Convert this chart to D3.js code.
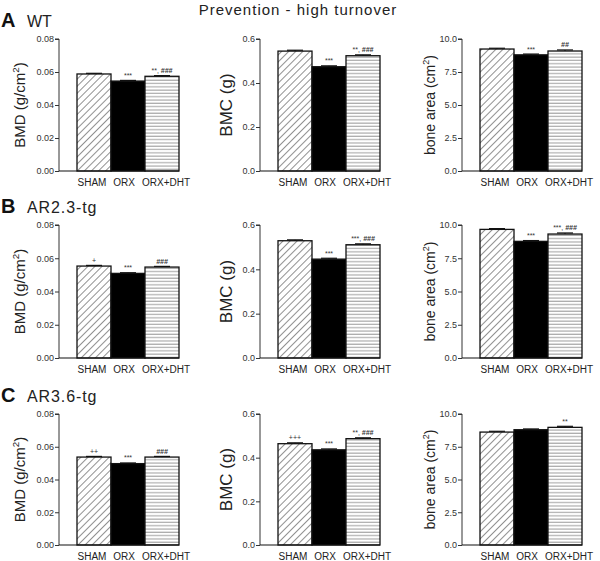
<!DOCTYPE html>
<html><head><meta charset="utf-8">
<script src="https://cdn.jsdelivr.net/npm/d3@7"></script>
<style>body{margin:0;background:#fff}svg{display:block}text{font-family:"Liberation Sans",Arial,sans-serif}</style>
</head><body><svg id="c" width="600" height="561"></svg>
<script>
const groups = ["SHAM", "ORX", "ORX+DHT"];
const strains = ["WT", "AR2.3-tg", "AR3.6-tg"];
const letters = ["A", "B", "C"];
const title = "Prevention - high turnover";

const bmdWT   = [0.0588, 0.0545, 0.0574];
const bmcWT   = [0.545, 0.474, 0.524];
const areaWT  = [9.24, 8.80, 9.09];
const bmdAR23 = [0.0553, 0.0509, 0.0547];
const bmcAR23 = [0.529, 0.446, 0.511];
const areaAR23= [9.67, 8.77, 9.32];
const bmdAR36 = [0.0537, 0.0497, 0.0537];
const bmcAR36 = [0.464, 0.436, 0.487];
const areaAR36= [8.62, 8.80, 8.98];

const semBMD  = [0.0004, 0.0004, 0.0004];
const semBMC  = [0.004, 0.004, 0.004];
const semArea = [0.06, 0.06, 0.08];

const bmdTicks  = [0, 0.02, 0.04, 0.06, 0.08];
const bmcTicks  = [0, 0.2, 0.4, 0.6];
const areaTicks = [0, 2.5, 5, 7.5, 10];

const annWT   = [["", "***", "**, ###"], ["", "***", "**, ###"], ["", "***", "##"]];
const annAR23 = [["+", "***", "###"], ["", "***", "***, ###"], ["", "***", "***, ###"]];
const annAR36 = [["++", "***", "###"], ["+++", "***", "**, ###"], ["", "", "**"]];

const measures = [
  {label: "BMD (g/cm", sup: "2", tail: ")", ticks: bmdTicks, fmt: ".2f", max: 0.08, sem: semBMD, fs: 15},
  {label: "BMC (g)", sup: null, tail: "", ticks: bmcTicks, fmt: ".1f", max: 0.6, sem: semBMC, fs: 17},
  {label: "bone area (cm", sup: "2", tail: ")", ticks: areaTicks, fmt: ".1f", max: 10, sem: semArea, fs: 14}
];
const rowValues = [[bmdWT, bmcWT, areaWT], [bmdAR23, bmcAR23, areaAR23], [bmdAR36, bmcAR36, areaAR36]];
const rowAnn = [annWT, annAR23, annAR36];

const svg = d3.select("#c");
const defs = svg.append("defs");
const p1 = defs.append("pattern").attr("id", "diag").attr("patternUnits", "userSpaceOnUse")
  .attr("width", 5).attr("height", 5).attr("patternTransform", "rotate(45)");
p1.append("rect").attr("width", 5).attr("height", 5).attr("fill", "#fff");
p1.append("line").attr("x1", 0).attr("y1", 0).attr("x2", 0).attr("y2", 5).attr("stroke", "#555").attr("stroke-width", 1.3);
const p2 = defs.append("pattern").attr("id", "horiz").attr("patternUnits", "userSpaceOnUse")
  .attr("width", 8).attr("height", 3.3);
p2.append("rect").attr("width", 8).attr("height", 3.3).attr("fill", "#fff");
p2.append("line").attr("x1", 0).attr("y1", 1).attr("x2", 8).attr("y2", 1).attr("stroke", "#999").attr("stroke-width", 1);
const fills = ["url(#diag)", "#000", "url(#horiz)"];

svg.append("text").attr("x", 298).attr("y", 15).attr("text-anchor", "middle")
  .attr("font-size", 15).attr("letter-spacing", 1).attr("fill", "#222").text(title);

const colX = [59, 260, 462];
const rowY = [[39, 171], [225, 358], [414, 545]];
const titleX = [20, 226, 430];
const labelShift = [-2, -4, 4];

rowValues.forEach((rowVals, r) => {
  const [top, bot] = rowY[r];
  svg.append("text").attr("x", 1).attr("y", top - 12).attr("font-size", 20).attr("font-weight", "bold").attr("fill", "#111").text(letters[r]);
  svg.append("text").attr("x", 27).attr("y", top - 12).attr("font-size", 16).attr("letter-spacing", r === 0 ? 0 : 0.9).attr("fill", "#222").text(strains[r]);
  measures.forEach((m, c) => {
    const vals = rowVals[c];
    const ax = colX[c];
    const y = d3.scaleLinear().domain([0, m.max]).range([bot, top]);
    const x = d3.scaleBand().domain(groups).range([ax + 18, ax + 120]).padding(0);
    const g = svg.append("g");
    const yAxis = d3.axisLeft(y).tickValues(m.ticks).tickFormat(d3.format(m.fmt)).tickSize(4).tickPadding(1);
    const ya = g.append("g").attr("transform", `translate(${ax},0)`).call(yAxis);
    ya.select(".domain").attr("stroke", "#333").attr("d", `M-4,${top}H0V${bot}`);
    ya.selectAll(".tick line").attr("stroke", "#333");
    ya.selectAll(".tick text").attr("font-size", 9).attr("fill", "#333").attr("font-family", "Liberation Sans, Arial, sans-serif");
    // bars
    g.selectAll("rect.bar").data(vals).join("rect").attr("class", "bar")
      .attr("x", (d, i) => x(groups[i])).attr("width", x.bandwidth())
      .attr("y", d => y(d)).attr("height", d => bot - y(d))
      .attr("fill", (d, i) => fills[i]).attr("stroke", "#111").attr("stroke-width", 1.3);
    // error bars
    g.selectAll("g.err").data(vals).join("g").attr("class", "err").each(function (d, i) {
      const cx = x(groups[i]) + x.bandwidth() / 2;
      const e = d3.select(this);
      e.append("line").attr("x1", cx).attr("x2", cx).attr("y1", y(d)).attr("y2", y(d + m.sem[i])).attr("stroke", "#111");
      e.append("line").attr("x1", cx - 8).attr("x2", cx + 8).attr("y1", y(d + m.sem[i])).attr("y2", y(d + m.sem[i])).attr("stroke", "#111").attr("stroke-width", 1.2);
    });
    // annotations
    g.selectAll("text.ann").data(vals).join("text").attr("class", "ann")
      .attr("x", (d, i) => x(groups[i]) + x.bandwidth() / 2)
      .attr("y", (d, i) => y(d + m.sem[i]) - 2.5)
      .attr("text-anchor", "middle").attr("font-size", 7).attr("fill", "#333")
      .each(function (d, i) {
        const s = rowAnn[r][c][i];
        const t = d3.select(this);
        s.split(/(#+)/).filter(p => p.length).forEach(p => {
          t.append("tspan").attr("font-weight", p[0] === "#" ? "bold" : "normal")
            .attr("font-style", p[0] === "#" ? "italic" : "normal").text(p);
        });
      });
    // x axis
    g.append("line").attr("x1", ax).attr("x2", ax + 120).attr("y1", bot).attr("y2", bot).attr("stroke", "#111").attr("stroke-width", 1.2);
    g.selectAll("text.cat").data(groups).join("text").attr("class", "cat")
      .attr("x", (d, i) => x(d) + x.bandwidth() / 2 + labelShift[i]).attr("y", bot + 15)
      .attr("text-anchor", "middle").attr("font-size", 10).attr("fill", "#222").text(d => d);
    // y title
    const t = svg.append("text").attr("transform", `translate(${titleX[c]},${(top + bot) / 2}) rotate(-90)`)
      .attr("text-anchor", "middle").attr("font-size", m.fs).attr("fill", "#222").attr("dy", "0.35em");
    t.append("tspan").text(m.label);
    if (m.sup) {
      t.append("tspan").attr("font-size", m.fs * 0.65).attr("dy", "-0.6em").text(m.sup);
      t.append("tspan").attr("dy", "0.4em").text(m.tail);
    }
  });
});
</script></body></html>
